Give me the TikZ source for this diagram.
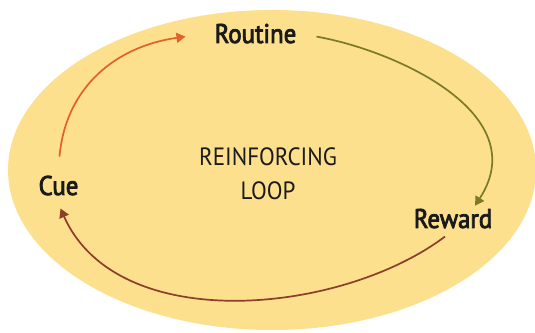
\documentclass[tikz,border=0pt]{standalone}
\usepackage{fontspec}
\newfontfamily\habitfont[FakeStretch=0.92]{PT Sans}
\newfontfamily\stagefont[FakeStretch=0.92,FakeBold=3]{PT Sans}
\usetikzlibrary{arrows.meta}
\definecolor{loopfill}{RGB}{252,224,142}
\definecolor{cueorange}{RGB}{226,98,42}
\definecolor{routineolive}{RGB}{122,122,40}
\definecolor{rewardbrown}{RGB}{140,62,40}
\definecolor{labelink}{RGB}{26,26,26}
\tikzset{stage/.style={font=\stagefont\fontsize{27}{32}\selectfont,
                       inner sep=0pt,anchor=base,text=labelink},
         habit arrow/.style={-{Triangle[length=9pt,width=10pt]},line width=1.7pt}}

\begin{document}
\begin{tikzpicture}[x=1pt,y=1pt]
                   \useasboundingbox (0,0) rectangle (535,332);
                   \fill[loopfill] (272,162) ellipse (264pt and 160pt);
                   \node[stage] (routine) at (255.5,289) {Routine};
                   \node[stage] (cue)     at (58.5,137)  {Cue};
                   \node[stage] (reward)  at (453,104)   {Reward};
                   \node[font=\habitfont\fontsize{25}{34}\selectfont,align=center,
                         text=labelink] (loop) at (268,158) {REINFORCING\\LOOP};
                    \draw[habit arrow,cueorange]
                    ([shift={(1pt,19pt)}]cue.north) .. controls +(85:70) and +(188:70) ..
                    ([shift={(-29pt,-3pt)}]routine.west);
                    \draw[habit arrow,routineolive]
                    ([shift={(20pt,-3pt)}]routine.east) .. controls +(-10:80) and +(57:110) ..
                    ([shift={(22pt,3pt)}]reward.north);
                    \draw[habit arrow,rewardbrown]
                    ([shift={(-8pt,-8pt)}]reward.south) .. controls +(217:130) and +(-66:140) ..
                    ([shift={(2pt,-13pt)}]cue.south);
                \end{tikzpicture}
\end{document}
